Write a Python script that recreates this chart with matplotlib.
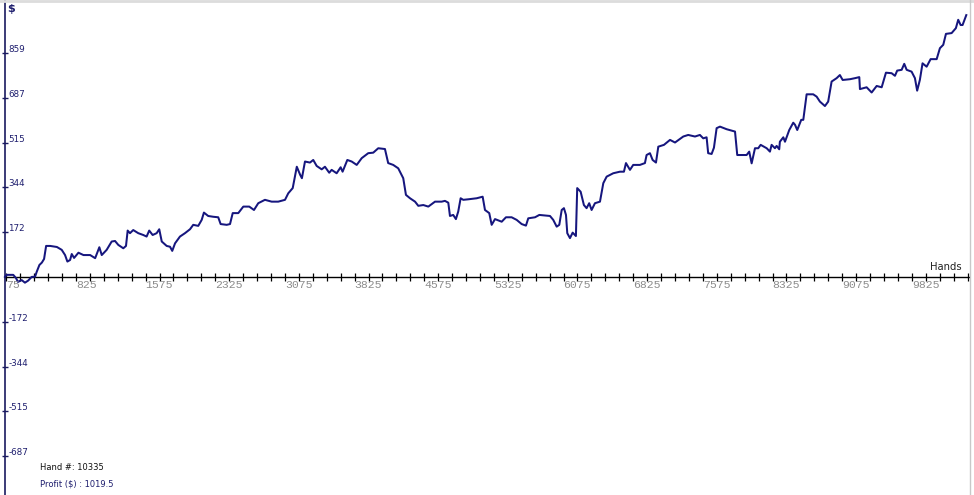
import numpy as np
import matplotlib
matplotlib.use('Agg')
import matplotlib.pyplot as plt
import matplotlib.transforms as mtransforms

# cumulative profit ($), by hand number
hands = [61, 79, 150, 179, 201, 241, 276, 311, 348, 385, 403, 432, 458, 482, 504, 548,
         620, 672, 708, 733, 762, 780, 805, 852, 906, 978, 1032, 1077, 1103, 1156, 1210,
         1246, 1281, 1335, 1364, 1382, 1407, 1442, 1496, 1550, 1586, 1614, 1651, 1694,
         1722, 1749, 1802, 1838, 1862, 1892, 1945, 1999, 2053, 2088, 2142, 2179, 2203,
         2249, 2303, 2357, 2383, 2448, 2484, 2513, 2573, 2627, 2691, 2742, 2788, 2860,
         2932, 3003, 3076, 3111, 3159, 3203, 3239, 3258, 3291, 3345, 3380, 3417, 3471,
         3506, 3552, 3578, 3632, 3675, 3696, 3747, 3794, 3848, 3902, 3972, 4026, 4080,
         4152, 4187, 4241, 4295, 4349, 4378, 4422, 4476, 4511, 4565, 4619, 4691, 4763,
         4798, 4834, 4852, 4887, 4916, 4941, 4967, 4995, 5049, 5140, 5204, 5229, 5275,
         5301, 5337, 5409, 5455, 5516, 5570, 5624, 5670, 5695, 5768, 5814, 5929, 5964,
         6001, 6029, 6055, 6079, 6101, 6115, 6144, 6173, 6208, 6222, 6259, 6294, 6323,
         6351, 6377, 6413, 6467, 6503, 6539, 6610, 6682, 6725, 6747, 6790, 6825, 6897,
         6951, 6969, 7005, 7034, 7070, 7095, 7156, 7221, 7275, 7364, 7417, 7490, 7543,
         7579, 7615, 7632, 7669, 7694, 7723, 7759, 7831, 7921, 7945, 8046, 8074, 8100,
         8136, 8171, 8197, 8262, 8297, 8315, 8351, 8369, 8397, 8404, 8441, 8459, 8505,
         8548, 8567, 8591, 8634, 8656, 8692, 8763, 8800, 8835, 8889, 8924, 8961, 9015,
         9050, 9080, 9159, 9213, 9259, 9266, 9338, 9392, 9446, 9500, 9546, 9607, 9643,
         9667, 9715, 9743, 9769, 9822, 9858, 9882, 9911, 9940, 9984, 10027, 10092, 10127,
         10163, 10192, 10253, 10299, 10324, 10350, 10371, 10411]
profit = [0, 8, 8, -4, -19, -12, -22, -14, 0, 1, 20, 46, 55, 69, 119, 119,
          115, 104, 84, 59, 65, 88, 73, 93, 84, 84, 72, 114, 84, 104, 136,
          138, 123, 110, 119, 178, 168, 180, 168, 161, 155, 178, 161, 168,
          183, 136, 119, 116, 100, 129, 155, 168, 183, 200, 196, 219, 247,
          234, 231, 229, 203, 200, 203, 245, 245, 270, 270, 257, 283, 296,
          289, 289, 296, 321, 341, 423, 392, 379, 443, 439, 449, 426, 413,
          423, 400, 411, 398, 421, 404, 449, 443, 430, 456, 475, 477, 494,
          491, 437, 430, 417, 379, 315, 302, 289, 273, 276, 270, 289, 289,
          292, 285, 234, 238, 222, 251, 302, 296, 298, 302, 308, 257, 245,
          200, 222, 212, 229, 229, 219, 203, 197, 225, 229, 238, 234, 219,
          193, 200, 257, 264, 238, 168, 149, 170, 157, 341, 327, 276, 264,
          283, 257, 283, 289, 360, 385, 398, 404, 404, 437, 411, 430, 430,
          437, 468, 475, 449, 439, 500, 507, 526, 516, 539, 545, 539, 545,
          532, 536, 475, 472, 496, 571, 577, 567, 558, 468, 468, 481, 436,
          494, 494, 507, 494, 481, 507, 494, 503, 490, 519, 536, 519, 564,
          592, 584, 564, 603, 603, 701, 701, 692, 673, 656, 673, 750, 763,
          775, 756, 759, 763, 767, 721, 728, 708, 733, 728, 784, 782, 772,
          792, 795, 818, 795, 788, 763, 715, 756, 820, 807, 836, 836, 878,
          891, 933, 936, 955, 987, 967, 967, 1005]

y_ticks = [859, 687, 515, 344, 172, -172, -344, -515, -687]
x_ticks = [75, 825, 1575, 2325, 3075, 3825, 4575, 5325, 6075, 6825, 7575, 8325, 9075, 9825]

navy = '#16167e'

fig = plt.figure(figsize=(9.74, 4.95), dpi=100)
ax = fig.add_axes([0, 0, 1, 1])
ax.set_xlim(7.5, 10494)
ax.set_ylim(-837, 1063)

ax.plot(hands, profit, color=navy, lw=1.45, zorder=3)

# axes through the origin
for s in ['top', 'right']:
    ax.spines[s].set_visible(False)
ax.spines['left'].set_position(('data', 61))
ax.spines['left'].set_color('#1a1a60')
ax.spines['left'].set_linewidth(1.2)
ax.spines['bottom'].set_position(('data', 0))
ax.spines['bottom'].set_color('black')
ax.spines['bottom'].set_linewidth(1.0)
ax.spines['bottom'].set_bounds(61, 10440)

ax.set_yticks(y_ticks)
ax.set_yticklabels([])
ax.tick_params(axis='y', direction='inout', length=5, width=1, color='#1a1a60')
ax.set_xticks(np.arange(75, 10440, 150))
ax.set_xticklabels([])
ax.tick_params(axis='x', direction='inout', length=6, width=0.9, color='black')

ylab_off = mtransforms.offset_copy(ax.transData, fig=fig, x=2.5, y=2.5, units='points')
for v in y_ticks:
    ax.text(61, v, str(v), transform=ylab_off, ha='left', va='center',
            fontsize=6.3, color='#1e1e6e', family='DejaVu Sans')

xlab_off = mtransforms.offset_copy(ax.transData, fig=fig, x=0, y=-2.3, units='points')
for v in x_ticks:
    ax.text(v, 0, str(v), transform=xlab_off, ha='left', va='top',
            fontsize=8.2, color='#8c8c8c', family='Liberation Mono')

ax.text(80, 1030, '$', ha='left', va='center', fontsize=8, color='#1e1e6e',
        fontweight='bold')
ax.text(0.955, 0.46, 'Hands', transform=fig.transFigure, ha='left', va='center',
        fontsize=7.2, color='#222222', family='DejaVu Sans')

fig.text(0.041, 1 - 468 / 495, 'Hand #: 10335', ha='left', va='center',
         fontsize=6, color='#111111')
fig.text(0.041, 1 - 484 / 495, 'Profit ($) : 1019.5', ha='left', va='center',
         fontsize=6, color='#1e1e6e')

# window frame
fig.add_artist(plt.Line2D([0, 1], [0.997, 0.997], transform=fig.transFigure,
                          color='#dcdcdc', lw=2))
fig.add_artist(plt.Line2D([0.9955, 0.9955], [0, 1], transform=fig.transFigure,
                          color='#c8c8c8', lw=1))

fig.savefig('out.png', dpi=100)
